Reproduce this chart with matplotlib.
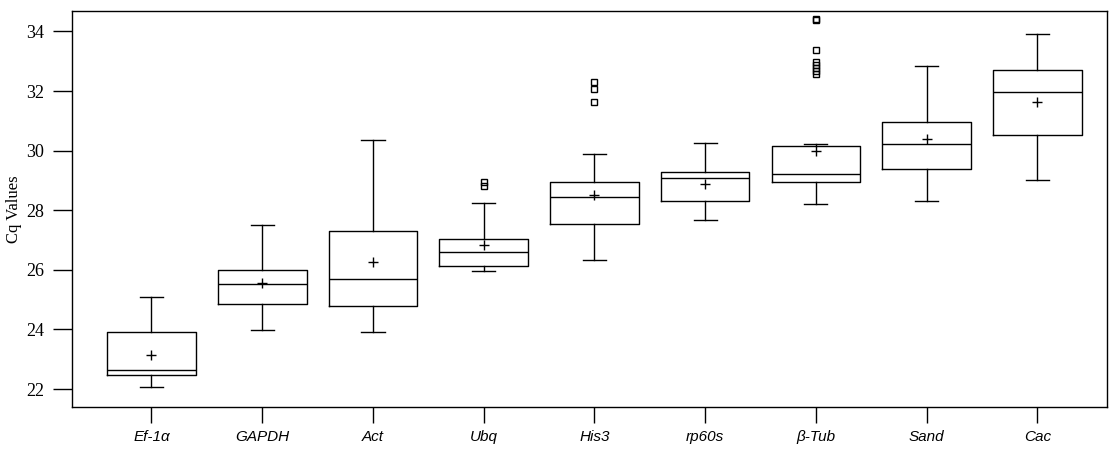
import numpy as np
import matplotlib
matplotlib.use("Agg")
import matplotlib.pyplot as plt

genes = ["Ef-1\u03b1", "GAPDH", "Act", "Ubq", "His3", "rp60s", "\u03b2-Tub", "Sand", "Cac"]
whislo = [22.06, 23.97, 23.90, 25.96, 26.33, 27.66, 28.21, 28.30, 29.00]
q1 = [22.46, 24.84, 24.78, 26.12, 27.54, 28.30, 28.94, 29.37, 30.51]
med = [22.63, 25.53, 25.71, 26.59, 28.43, 29.07, 29.20, 30.21, 31.96]
q3 = [23.92, 25.98, 27.29, 27.04, 28.96, 29.27, 30.17, 30.97, 32.69]
whishi = [25.10, 27.49, 30.36, 28.23, 29.88, 30.24, 30.21, 32.83, 33.90]
means = [23.13, 25.55, 26.25, 26.82, 28.51, 28.87, 29.99, 30.38, 31.62]
fliers = [
    [],
    [],
    [],
    [28.96, 28.82],
    [32.29, 32.07, 31.62],
    [],
    [34.43, 34.38, 33.37, 32.97, 32.87, 32.77, 32.67, 32.57],
    [],
    [],
]

stats = []
for i in range(len(genes)):
    stats.append(dict(whislo=whislo[i], q1=q1[i], med=med[i], q3=q3[i],
                      whishi=whishi[i], mean=means[i], fliers=fliers[i]))

fig = plt.figure(figsize=(11.16, 4.51), dpi=100)
ax = fig.add_axes([0.0643, 0.0976, 0.9277, 0.8784])

lw = 1.0
ax.bxp(stats, positions=np.arange(1, len(genes) + 1), widths=0.8,
       showmeans=True, showfliers=True,
       boxprops=dict(color="black", linewidth=lw),
       medianprops=dict(color="black", linewidth=lw),
       whiskerprops=dict(color="black", linewidth=lw),
       capprops=dict(color="black", linewidth=lw),
       capwidths=0.21,
       meanprops=dict(marker="+", markeredgecolor="black", markersize=7, markeredgewidth=1.0),
       flierprops=dict(marker="s", markerfacecolor="none", markeredgecolor="black",
                       markersize=5, markeredgewidth=1.0))

ax.set_xlim(0.28, 9.63)
ax.set_ylim(21.40, 34.69)
ax.set_yticks(np.arange(22, 35, 2))
ax.set_yticklabels([str(v) for v in range(22, 35, 2)], family="Liberation Serif", fontsize=13)
ax.set_xticks(np.arange(1, len(genes) + 1))
ax.set_xticklabels(genes, family="Liberation Sans", style="italic", fontsize=11)
ax.tick_params(axis="y", length=14, width=1.0, pad=6, direction="out")
ax.tick_params(axis="x", length=11.5, width=1.0, pad=5, direction="out")
for s in ax.spines.values():
    s.set_linewidth(1.0)
ax.set_ylabel("Cq Values", family="Liberation Serif", fontsize=12, labelpad=3)

fig.savefig("out.png", dpi=100)
